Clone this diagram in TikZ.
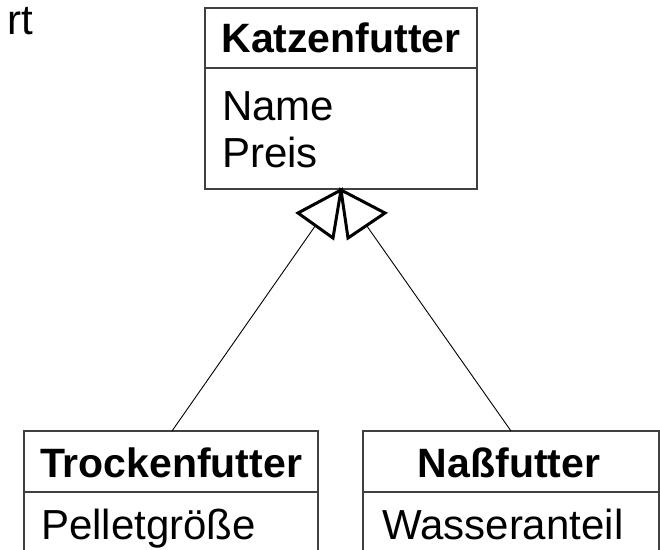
\documentclass[tikz,border=0pt]{standalone}
\usepackage{fontspec}
\usetikzlibrary{calc}
\setmainfont{Liberation Sans}
\begin{document}
\begin{tikzpicture}[x=1pt,y=-1pt,
  box/.style={draw=black!75,line width=1.2pt},
  conn/.style={draw=black,line width=0.9pt},
  tri/.style={draw=black,line width=3pt,line join=miter},
  head/.style={anchor=base,inner sep=0pt,font=\fontsize{41}{41}\selectfont\bfseries},
  attr/.style={anchor=base west,inner sep=0pt,font=\fontsize{42}{42}\selectfont}]
\useasboundingbox (0,0) rectangle (660,549);
% top class
\draw[box] (205,8) rectangle (477,189);
\draw[box] (205,68) -- (477,68);
\node[head] (kh) at (341,52) {Katzenfutter};
\node[attr] (kn) at (222,120) {Name};
\node[attr] (kp) at (222,167) {Preis};
\coordinate (tip) at (341,190);
% left subclass
\draw[box] (24,560) -- (24,431) -- (318,431) -- (318,560);
\draw[box] (24,492) -- (318,492);
\node[head] (th) at (171,477) {Trockenfutter};
\node[attr] (tp) at (41,539) {Pelletgröße};
\coordinate (ltop) at (172,431);
% right subclass
\draw[box] (363,560) -- (363,431) -- (659,431) -- (659,560);
\draw[box] (363,492) -- (659,492);
\node[head] (nh) at (509,477) {Naßfutter};
\node[attr] (np) at (382,539) {Wasseranteil};
\coordinate (rtop) at (511,431);
% cut text
\node[anchor=base east,inner sep=0pt,font=\fontsize{42}{42}\selectfont] (cut) at (33,34) {rt};
% triangles
\coordinate (la) at (298,213);
\coordinate (lb) at (333,238);
\coordinate (ra) at (348,238);
\coordinate (rb) at (385,213);
\draw[tri] (tip) -- (la) -- (lb) -- cycle;
\draw[tri] (tip) -- (ra) -- (rb) -- cycle;
\draw[conn] ($(la)!0.5!(lb)$) -- (ltop);
\draw[conn] ($(ra)!0.5!(rb)$) -- (rtop);
\end{tikzpicture}
\end{document}
